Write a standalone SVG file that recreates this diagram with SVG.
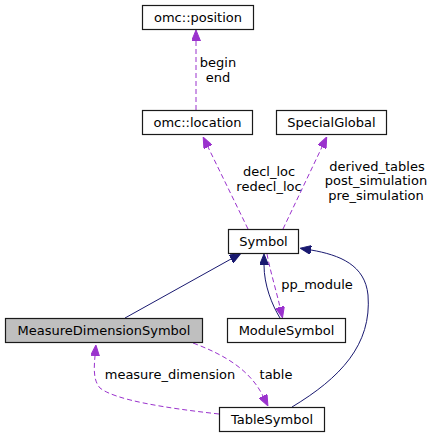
<svg xmlns="http://www.w3.org/2000/svg" width="435" height="439" viewBox="0 0 435 439">
<style>
text{font-family:"DejaVu Sans","Liberation Sans",sans-serif;font-size:13px;fill:#000}
.n text{text-anchor:middle}
.box{fill:#fff;stroke:#1a1a1a;stroke-width:1.2}
.hl{fill:#bfbfbf}
.dep{fill:none;stroke:#9a32cd;stroke-width:1;stroke-dasharray:5,3;marker-end:url(#ap)}
.inh{fill:none;stroke:#191970;stroke-width:1;marker-end:url(#an)}
.lbl{text-anchor:middle}
</style>
<defs>
<marker id="ap" viewBox="0 0 11 9" refX="0" refY="4.5" markerWidth="11" markerHeight="9" markerUnits="userSpaceOnUse" orient="auto">
<path d="M0,0 L11,4.5 L0,9 z" fill="#9a32cd" stroke="#9a32cd"/>
</marker>
<marker id="an" viewBox="0 0 11 9" refX="0" refY="4.5" markerWidth="11" markerHeight="9" markerUnits="userSpaceOnUse" orient="auto">
<path d="M0,0 L11,4.5 L0,9 z" fill="#191970" stroke="#191970"/>
</marker>
</defs>
<g id="connectors">
<path class="dep" d="M196,110 L196,41"/>
<path class="dep" d="M248,229 L208,147"/>
<path class="dep" d="M283,229 L322,147"/>
<path class="inh" d="M125,318 L231,259"/>
<path class="inh" d="M280,318 C272,305 264,285 264,265"/>
<path class="dep" d="M267,254 C270,270 276,290 280,307"/>
<path class="inh" d="M292,407 C340,378 372,345 368,295 C365,265 340,255 311,250"/>
<path class="dep" d="M193,343 C225,355 250,370 263,396"/>
<path class="dep" d="M219,414 C165,408 115,400 100,388 C93,380 94,368 95,356"/>
<text class="lbl" x="218" y="67">begin</text>
<text class="lbl" x="218" y="81.5">end</text>
<text class="lbl" x="269" y="176">decl_loc</text>
<text class="lbl" x="269" y="191">redecl_loc</text>
<text class="lbl" x="377" y="171">derived_tables</text>
<text class="lbl" x="376" y="185">post_simulation</text>
<text class="lbl" x="376" y="199.5">pre_simulation</text>
<text class="lbl" x="317" y="289">pp_module</text>
<text class="lbl" x="170" y="379">measure_dimension</text>
<text class="lbl" x="276" y="379">table</text>
</g>
<g id="position" class="n"><rect class="box" x="142.5" y="5.5" width="111" height="24"/><text x="198" y="22">omc::position</text></g>
<g id="location" class="n"><rect class="box" x="142.5" y="110.5" width="110" height="24"/><text x="197.5" y="127">omc::location</text></g>
<g id="specialglobal" class="n"><rect class="box" x="276.5" y="110.5" width="110" height="24"/><text x="331.5" y="127">SpecialGlobal</text></g>
<g id="symbol" class="n"><rect class="box" x="228.5" y="229.5" width="70" height="24"/><text x="263.5" y="245.5">Symbol</text></g>
<g id="measuredimensionsymbol" class="n"><rect class="box hl" x="5.5" y="318.5" width="197" height="24"/><text x="104" y="335">MeasureDimensionSymbol</text></g>
<g id="modulesymbol" class="n"><rect class="box" x="227.5" y="318.5" width="118" height="24"/><text x="286.5" y="335">ModuleSymbol</text></g>
<g id="tablesymbol" class="n"><rect class="box" x="219.5" y="407.5" width="105" height="24"/><text x="272" y="424">TableSymbol</text></g>
</svg>
